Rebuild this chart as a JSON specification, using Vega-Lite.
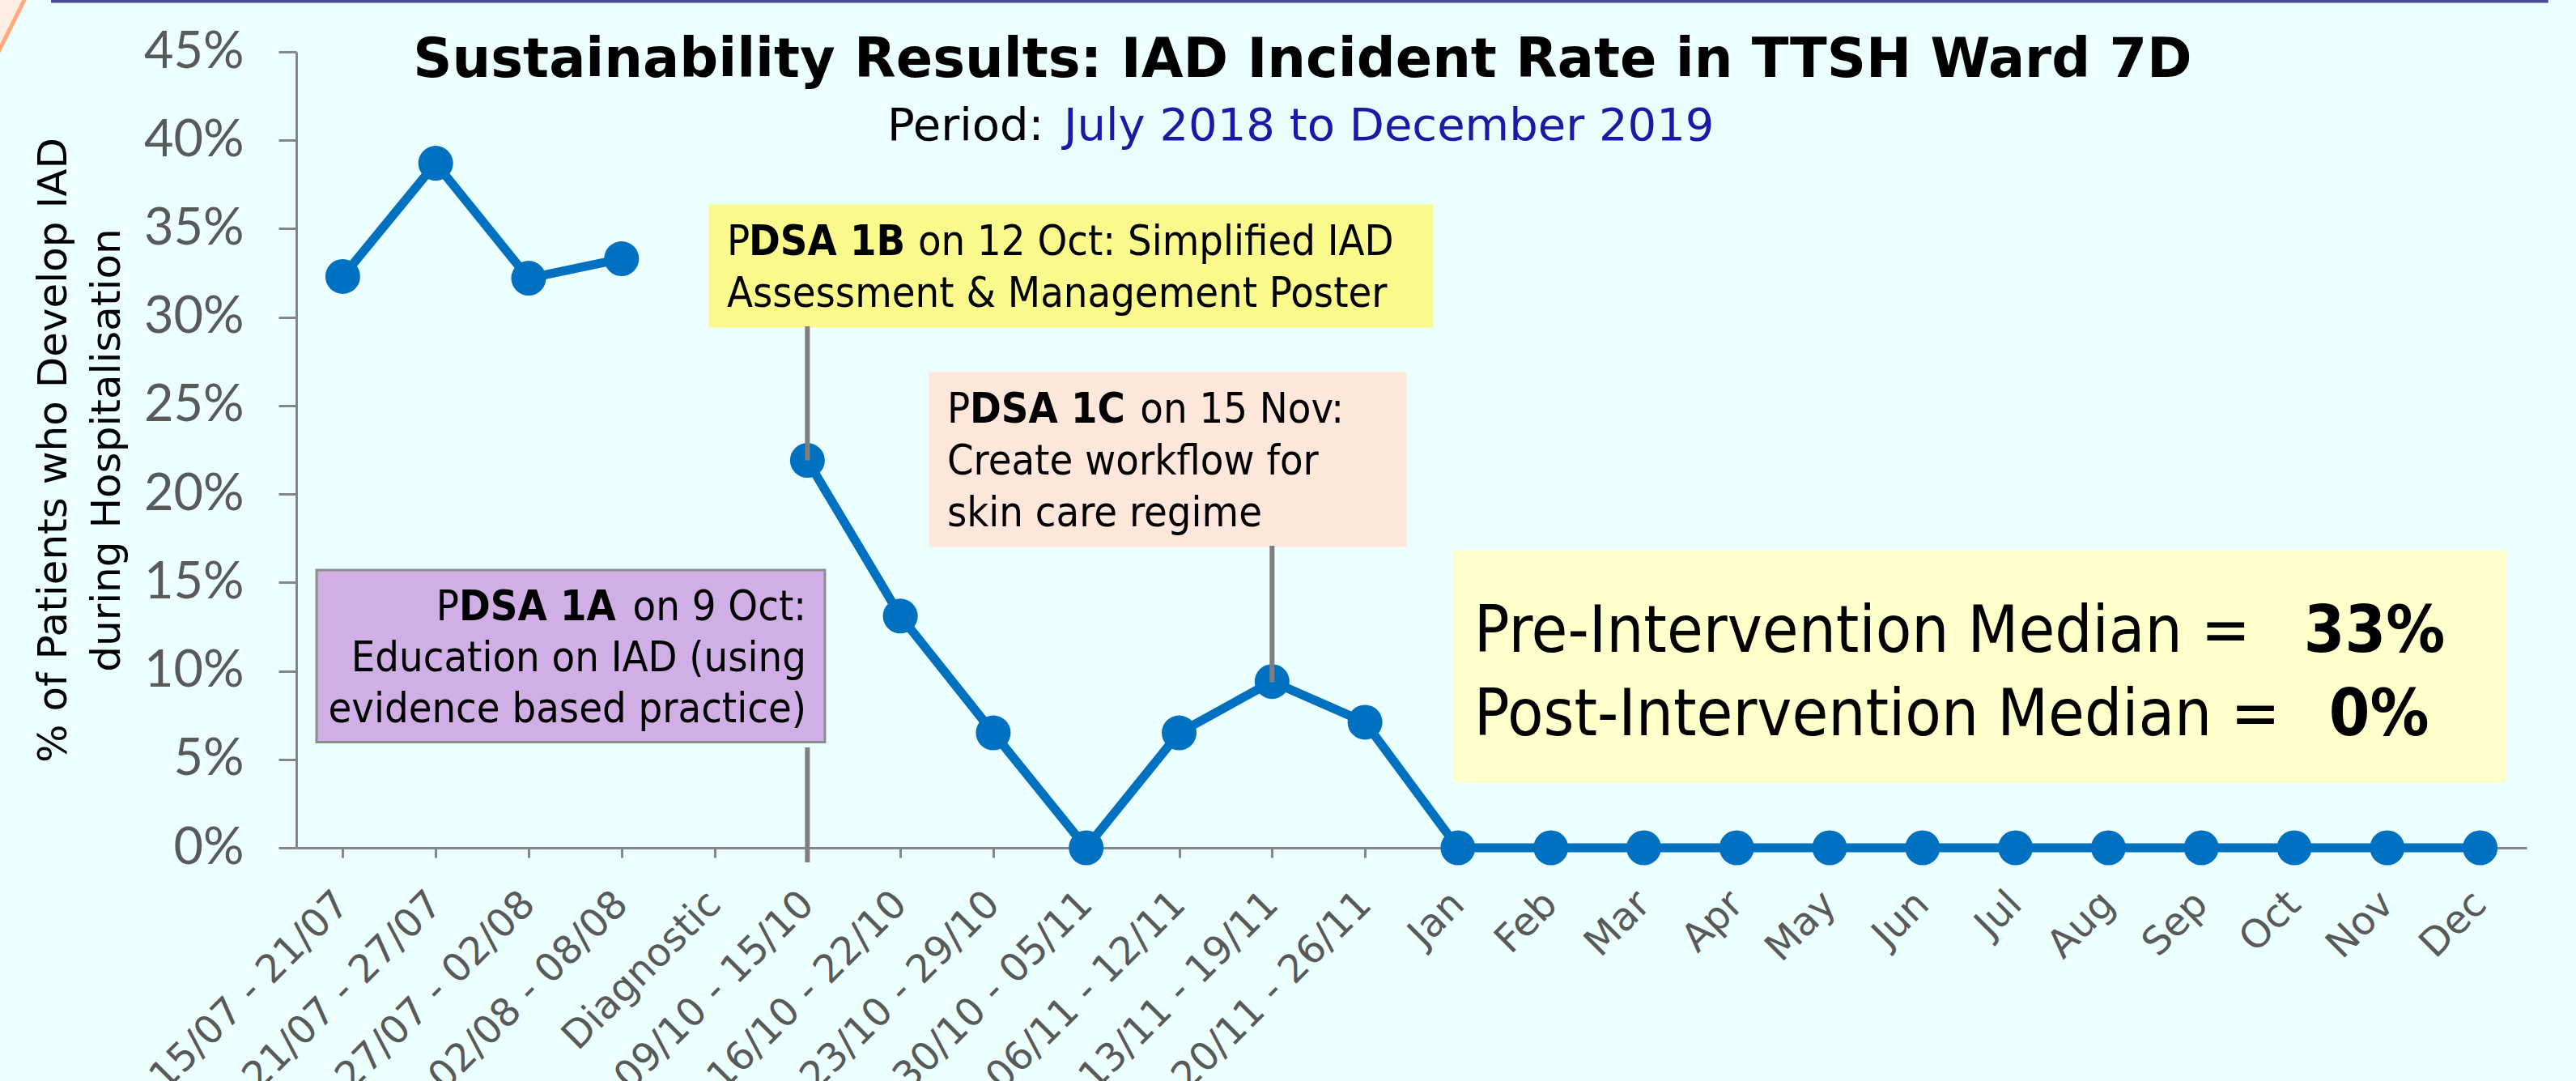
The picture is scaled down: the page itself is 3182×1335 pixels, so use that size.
{
  "$schema": "https://vega.github.io/schema/vega-lite/v6.json",
  "width": 2755,
  "height": 983,
  "autosize": {"type": "none"},
  "padding": {"left": 366, "top": 64, "right": 61, "bottom": 288},
  "background": "#EAFFFE",
  "config": {"view": {"stroke": null}},
  "datasets": {
    "rates": [
      {"period": "15/07 - 21/07", "phase": "Baseline", "rate": 0.323},
      {"period": "21/07 - 27/07", "phase": "Baseline", "rate": 0.387},
      {"period": "27/07 - 02/08", "phase": "Baseline", "rate": 0.322},
      {"period": "02/08 - 08/08", "phase": "Baseline", "rate": 0.333},
      {"period": "Diagnostic", "phase": "Diagnostic", "rate": null},
      {"period": "09/10 - 15/10", "phase": "Intervention", "rate": 0.219},
      {"period": "16/10 - 22/10", "phase": "Intervention", "rate": 0.131},
      {"period": "23/10 - 29/10", "phase": "Intervention", "rate": 0.065},
      {"period": "30/10 - 05/11", "phase": "Intervention", "rate": 0},
      {"period": "06/11 - 12/11", "phase": "Intervention", "rate": 0.065},
      {"period": "13/11 - 19/11", "phase": "Intervention", "rate": 0.094},
      {"period": "20/11 - 26/11", "phase": "Intervention", "rate": 0.071},
      {"period": "Jan", "phase": "Intervention", "rate": 0},
      {"period": "Feb", "phase": "Intervention", "rate": 0},
      {"period": "Mar", "phase": "Intervention", "rate": 0},
      {"period": "Apr", "phase": "Intervention", "rate": 0},
      {"period": "May", "phase": "Intervention", "rate": 0},
      {"period": "Jun", "phase": "Intervention", "rate": 0},
      {"period": "Jul", "phase": "Intervention", "rate": 0},
      {"period": "Aug", "phase": "Intervention", "rate": 0},
      {"period": "Sep", "phase": "Intervention", "rate": 0},
      {"period": "Oct", "phase": "Intervention", "rate": 0},
      {"period": "Nov", "phase": "Intervention", "rate": 0},
      {"period": "Dec", "phase": "Intervention", "rate": 0}
    ],
    "boxes": [
      {"box": "1B", "x": 4.451, "xe": 12.221, "rate": 0.2948, "ye": 0.3630},
      {"box": "1A", "x": 0.218, "xe": 5.688, "rate": 0.0597, "ye": 0.1570},
      {"box": "1C", "x": 6.821, "xe": 11.934, "rate": 0.1708, "ye": 0.2683},
      {"box": "median", "x": 12.465, "xe": 23.763, "rate": 0.0375, "ye": 0.1676}
    ],
    "connectors": [
      {"x": 5.5, "rate": 0.2948, "ye": 0.219},
      {"x": 5.5, "rate": 0.0568, "ye": -0.0082},
      {"x": 10.5, "rate": 0.1708, "ye": 0.0936}
    ],
    "topBar": [
      {"x": -2.639, "xe": 24.233, "rate": 0.4786}
    ],
    "cornerLine": [
      {"x": -3.214, "rate": 0.4491},
      {"x": -2.901, "rate": 0.4820}
    ],
    "noteLeft": [
      {"x": 4.634, "rate": 0.3351, "t": "P"},
      {"x": 6.69, "rate": 0.3351, "t": "on 12 Oct: Simplified IAD"},
      {"x": 4.634, "rate": 0.3058, "t": "Assessment & Management Poster"},
      {"x": 7.003, "rate": 0.2403, "t": "P"},
      {"x": 9.08, "rate": 0.2403, "t": "on 15 Nov:"},
      {"x": 7.003, "rate": 0.2110, "t": "Create workflow for"},
      {"x": 7.003, "rate": 0.1817, "t": "skin care regime"}
    ],
    "noteBold": [
      {"x": 4.869, "rate": 0.3351, "t": "DSA 1B"},
      {"x": 7.247, "rate": 0.2403, "t": "DSA 1C"},
      {"x": 1.751, "rate": 0.1286, "t": "DSA 1A"}
    ],
    "noteRight": [
      {"x": 1.751, "rate": 0.1286, "t": "P"},
      {"x": 5.488, "rate": 0.1286, "t": "on 9 Oct:"},
      {"x": 5.488, "rate": 0.0998, "t": "Education on IAD (using"},
      {"x": 5.488, "rate": 0.0710, "t": "evidence based practice)"}
    ],
    "medianText": [
      {"x": 12.674, "rate": 0.1108, "t": "Pre-Intervention Median ="},
      {"x": 12.674, "rate": 0.0636, "t": "Post-Intervention Median ="}
    ],
    "medianBold": [
      {"x": 21.603, "rate": 0.1108, "t": "33%"},
      {"x": 21.873, "rate": 0.0636, "t": "0%"}
    ],
    "titleText": [
      {"x": 10.828, "rate": 0.4358, "t": "Sustainability Results: IAD Incident Rate in TTSH Ward 7D"}
    ],
    "subBlack": [
      {"x": 6.359, "rate": 0.4001, "t": "Period:"}
    ],
    "subBlue": [
      {"x": 8.258, "rate": 0.4001, "t": "July 2018 to December 2019"}
    ]
  },
  "layer": [
    {
      "data": {"name": "rates"},
      "encoding": {
        "x": {
          "field": "period",
          "type": "ordinal",
          "scale": {
            "type": "point",
            "padding": 0.5,
            "domain": ["15/07 - 21/07", "21/07 - 27/07", "27/07 - 02/08", "02/08 - 08/08", "Diagnostic", "09/10 - 15/10", "16/10 - 22/10", "23/10 - 29/10", "30/10 - 05/11", "06/11 - 12/11", "13/11 - 19/11", "20/11 - 26/11", "Jan", "Feb", "Mar", "Apr", "May", "Jun", "Jul", "Aug", "Sep", "Oct", "Nov", "Dec"]
          },
          "axis": {
            "title": null,
            "labelAngle": -45,
            "labelAlign": "right",
            "labelBaseline": "middle",
            "labelFont": "DejaVu Sans",
            "labelFontSize": 48,
            "labelColor": "#595959",
            "labelPadding": 50,
            "labelLimit": 1000,
            "labelOverlap": false,
            "tickSize": 12,
            "tickWidth": 3,
            "tickColor": "#868686",
            "domainColor": "#868686",
            "domainWidth": 3,
            "grid": false
          }
        },
        "y": {
          "field": "rate",
          "type": "quantitative",
          "scale": {"domain": [0, 0.45], "nice": false, "zero": false},
          "axis": {
            "values": [0, 0.05, 0.1, 0.15, 0.2, 0.25, 0.3, 0.35, 0.4, 0.45],
            "format": ".0%",
            "grid": false,
            "labelFont": "Lato",
            "labelFontSize": 63,
            "labelColor": "#595959",
            "labelPadding": 43,
            "labelLimit": 500,
            "tickSize": 22,
            "tickWidth": 3,
            "tickColor": "#868686",
            "domainColor": "#868686",
            "domainWidth": 3,
            "title": ["% of Patients who Develop  IAD", "during Hospitalisation"],
            "titleFont": "DejaVu Sans",
            "titleFontSize": 50,
            "titleFontWeight": "normal",
            "titleColor": "#000000",
            "titlePadding": 20,
            "titleLineHeight": 66
          }
        }
      },
      "layer": [
        {
          "mark": {"type": "line", "color": "#0070C0", "strokeWidth": 11},
          "encoding": {"detail": {"field": "phase", "type": "nominal"}}
        },
        {
          "mark": {"type": "point", "shape": "circle", "filled": true, "size": 1850, "color": "#0070C0", "opacity": 1}
        }
      ]
    },
    {
      "encoding": {
        "x": {"field": "x", "type": "quantitative", "scale": {"domain": [0, 24], "nice": false, "zero": false}, "axis": null},
        "y": {
          "field": "rate",
          "type": "quantitative",
          "scale": {"domain": [0, 0.45], "nice": false, "zero": false},
          "axis": {
            "values": [0, 0.05, 0.1, 0.15, 0.2, 0.25, 0.3, 0.35, 0.4, 0.45],
            "format": ".0%",
            "grid": false,
            "labelFont": "Lato",
            "labelFontSize": 63,
            "labelColor": "#595959",
            "labelPadding": 43,
            "labelLimit": 500,
            "tickSize": 22,
            "tickWidth": 3,
            "tickColor": "#868686",
            "domainColor": "#868686",
            "domainWidth": 3,
            "title": ["% of Patients who Develop  IAD", "during Hospitalisation"],
            "titleFont": "DejaVu Sans",
            "titleFontSize": 50,
            "titleFontWeight": "normal",
            "titleColor": "#000000",
            "titlePadding": 20,
            "titleLineHeight": 66
          }
        }
      },
      "layer": [
        {
          "data": {"name": "cornerLine"},
          "mark": {"type": "area", "color": "#FDEEE4", "opacity": 1},
          "encoding": {"y2": {"datum": 0.4820}}
        },
        {
          "data": {"name": "cornerLine"},
          "mark": {"type": "line", "color": "#FFAA78", "strokeWidth": 5},
          "encoding": {}
        },
        {
          "data": {"name": "boxes"},
          "mark": {"type": "rect", "strokeWidth": 3},
          "encoding": {
            "x2": {"field": "xe"},
            "y2": {"field": "ye"},
            "fill": {"field": "box", "type": "nominal", "scale": {"domain": ["1A", "1B", "1C", "median"], "range": ["#D0AEE6", "#FAFA8C", "#FDE6DA", "#FFFFCC"]}, "legend": null},
            "stroke": {"field": "box", "type": "nominal", "scale": {"domain": ["1A", "1B", "1C", "median"], "range": ["#8C8C8C", "#FAFA8C", "#FDE6DA", "#FFFFCC"]}, "legend": null}
          }
        },
        {
          "data": {"name": "connectors"},
          "mark": {"type": "rule", "color": "#7F7F7F", "strokeWidth": 6},
          "encoding": {"y2": {"field": "ye"}}
        },
        {
          "data": {"name": "topBar"},
          "mark": {"type": "rule", "color": "#4A4A9A", "strokeWidth": 4},
          "encoding": {"x2": {"field": "xe"}}
        },
        {
          "data": {"name": "noteLeft"},
          "mark": {"type": "text", "font": "DejaVu Sans Condensed", "fontSize": 52, "align": "left", "baseline": "alphabetic", "color": "#000000"},
          "encoding": {"text": {"field": "t"}}
        },
        {
          "data": {"name": "noteBold"},
          "mark": {"type": "text", "font": "DejaVu Sans Condensed", "fontSize": 52, "fontWeight": "bold", "align": "left", "baseline": "alphabetic", "color": "#000000"},
          "encoding": {"text": {"field": "t"}}
        },
        {
          "data": {"name": "noteRight"},
          "mark": {"type": "text", "font": "DejaVu Sans Condensed", "fontSize": 52, "align": "right", "baseline": "alphabetic", "color": "#000000"},
          "encoding": {"text": {"field": "t"}}
        },
        {
          "data": {"name": "medianText"},
          "mark": {"type": "text", "font": "DejaVu Sans Condensed", "fontSize": 81, "align": "left", "baseline": "alphabetic", "color": "#000000"},
          "encoding": {"text": {"field": "t"}}
        },
        {
          "data": {"name": "medianBold"},
          "mark": {"type": "text", "font": "DejaVu Sans Condensed", "fontSize": 81, "fontWeight": "bold", "align": "left", "baseline": "alphabetic", "color": "#000000"},
          "encoding": {"text": {"field": "t"}}
        },
        {
          "data": {"name": "titleText"},
          "mark": {"type": "text", "font": "DejaVu Sans", "fontSize": 67, "fontWeight": "bold", "align": "center", "baseline": "alphabetic", "color": "#000000"},
          "encoding": {"text": {"field": "t"}}
        },
        {
          "data": {"name": "subBlack"},
          "mark": {"type": "text", "font": "DejaVu Sans", "fontSize": 56, "align": "left", "baseline": "alphabetic", "color": "#000000"},
          "encoding": {"text": {"field": "t"}}
        },
        {
          "data": {"name": "subBlue"},
          "mark": {"type": "text", "font": "DejaVu Sans", "fontSize": 56, "align": "left", "baseline": "alphabetic", "color": "#1A1AA6"},
          "encoding": {"text": {"field": "t"}}
        }
      ]
    }
  ],
  "resolve": {"scale": {"x": "independent"}, "axis": {"x": "independent"}}
}
